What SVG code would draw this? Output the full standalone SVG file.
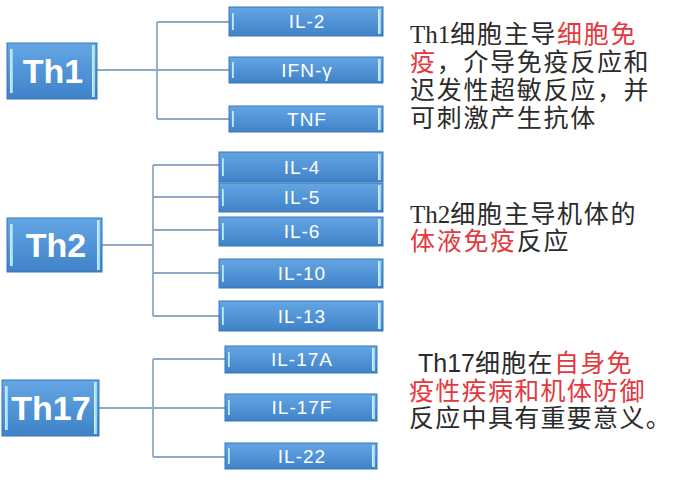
<svg xmlns="http://www.w3.org/2000/svg" width="673" height="482" viewBox="0 0 673 482">
<defs>
<linearGradient id="bg" x1="0" y1="0" x2="0" y2="1">
<stop offset="0" stop-color="#64a6e4"/>
<stop offset="1" stop-color="#3f82c8"/>
</linearGradient>
<linearGradient id="edge" x1="0" y1="0" x2="1" y2="0">
<stop offset="0" stop-color="#d4f4ff"/>
<stop offset="1" stop-color="#8fd0f2"/>
</linearGradient>
</defs>
<style>
.box{fill:url(#bg);stroke:#3a76b6;stroke-width:1}
.bar{fill:url(#edge)}
.big{font-family:"Liberation Sans",Arial,sans-serif;font-weight:bold;font-size:34px;fill:#fff;text-anchor:middle}
.sm{font-family:"Liberation Sans",Arial,sans-serif;font-size:19px;fill:#fff;text-anchor:middle;letter-spacing:1px}
.conn{fill:none;stroke:#8ea8c8;stroke-width:1.8}
.t1{font-family:"Liberation Serif","Noto Sans CJK SC",serif;font-size:25px;fill:#2b2b2b;letter-spacing:1.7px}
.t2{font-family:"Liberation Sans","Noto Sans CJK SC",sans-serif;font-size:25px;fill:#2b2b2b;letter-spacing:1.3px}
.red{fill:#e3383d}
.nols{letter-spacing:0}
</style>
<g id="connectors">
<path class="conn" d="M97 70H229M157 22V119M157 22H229M157 119H229"/>
<path class="conn" d="M102 245H153M153 165V316M153 165H219M153 197H219M153 230H219M153 273H219M153 316H219"/>
<path class="conn" d="M99 408H225M153 359V457M153 359H225M153 457H225"/>
</g>
<g id="th1">
<rect class="box" x="7" y="43" width="90" height="56"/>
<rect class="bar" x="10" y="49" width="3" height="44"/>
<rect class="bar" x="92" y="45" width="3" height="52"/>
<text class="big" x="53" y="83">Th1</text>
</g>
<g id="il2"><rect class="box" x="229" y="7" width="154" height="29"/><rect class="bar" x="232" y="13" width="2" height="17"/><rect class="bar" x="378" y="9" width="3" height="25"/><text class="sm" x="307" y="28">IL-2</text></g>
<g id="ifng"><rect class="box" x="229" y="57" width="154" height="26"/><rect class="bar" x="232" y="62" width="2" height="16"/><rect class="bar" x="378" y="59" width="3" height="22"/><text class="sm" x="307" y="77">IFN-γ</text></g>
<g id="tnf"><rect class="box" x="229" y="106" width="154" height="26"/><rect class="bar" x="232" y="111" width="2" height="16"/><rect class="bar" x="378" y="108" width="3" height="22"/><text class="sm" x="307" y="126">TNF</text></g>
<g id="th2">
<rect class="box" x="7" y="218" width="95" height="54"/>
<rect class="bar" x="10" y="224" width="3" height="42"/>
<rect class="bar" x="97" y="220" width="3" height="50"/>
<text class="big" x="56" y="257">Th2</text>
</g>
<g id="il4"><rect class="box" x="219" y="152" width="164" height="30"/><rect class="bar" x="222" y="158" width="2" height="18"/><rect class="bar" x="378" y="154" width="3" height="26"/><text class="sm" x="302" y="174">IL-4</text></g>
<g id="il5"><rect class="box" x="219" y="183" width="164" height="29"/><rect class="bar" x="222" y="189" width="2" height="17"/><rect class="bar" x="378" y="185" width="3" height="25"/><text class="sm" x="302" y="204">IL-5</text></g>
<g id="il6"><rect class="box" x="219" y="217" width="164" height="29"/><rect class="bar" x="222" y="223" width="2" height="17"/><rect class="bar" x="378" y="219" width="3" height="25"/><text class="sm" x="302" y="238">IL-6</text></g>
<g id="il10"><rect class="box" x="219" y="259" width="164" height="29"/><rect class="bar" x="222" y="265" width="2" height="17"/><rect class="bar" x="378" y="261" width="3" height="25"/><text class="sm" x="302" y="280">IL-10</text></g>
<g id="il13"><rect class="box" x="219" y="301" width="164" height="30"/><rect class="bar" x="222" y="307" width="2" height="18"/><rect class="bar" x="378" y="303" width="3" height="26"/><text class="sm" x="302" y="323">IL-13</text></g>
<g id="th17">
<rect class="box" x="2" y="380" width="97" height="56"/>
<rect class="bar" x="5" y="386" width="3" height="44"/>
<rect class="bar" x="94" y="382" width="3" height="52"/>
<text class="big" x="51" y="420">Th17</text>
</g>
<g id="il17a"><rect class="box" x="225" y="346" width="152" height="27"/><rect class="bar" x="228" y="352" width="2" height="15"/><rect class="bar" x="372" y="348" width="3" height="23"/><text class="sm" x="302" y="366">IL-17A</text></g>
<g id="il17f"><rect class="box" x="225" y="394" width="152" height="27"/><rect class="bar" x="228" y="400" width="2" height="15"/><rect class="bar" x="372" y="396" width="3" height="23"/><text class="sm" x="302" y="414">IL-17F</text></g>
<g id="il22"><rect class="box" x="225" y="443" width="152" height="26"/><rect class="bar" x="228" y="448" width="2" height="16"/><rect class="bar" x="372" y="445" width="3" height="22"/><text class="sm" x="302" y="463">IL-22</text></g>
<g id="text-th1">
<text class="t1" x="410" y="42.5"><tspan class="nols">Th1</tspan>细胞主导<tspan class="red">细胞免</tspan></text>
<text class="t1" x="410" y="70.5"><tspan class="red">疫</tspan>，介导免疫反应和</text>
<text class="t1" x="410" y="98.5">迟发性超敏反应，并</text>
<text class="t1" x="410" y="126.5">可刺激产生抗体</text>
</g>
<g id="text-th2">
<text class="t1" x="410" y="222.5"><tspan class="nols">Th2</tspan>细胞主导机体的</text>
<text class="t1" x="410" y="249.5"><tspan class="red">体液免疫</tspan>反应</text>
</g>
<g id="text-th17">
<text class="t2" x="418" y="371.5"><tspan class="nols">Th17</tspan>细胞在<tspan class="red">自身免</tspan></text>
<text class="t2 red" x="409" y="399.5">疫性疾病和机体防御</text>
<text class="t2" x="409" y="426.5">反应中具有重要意义。</text>
</g>
</svg>
